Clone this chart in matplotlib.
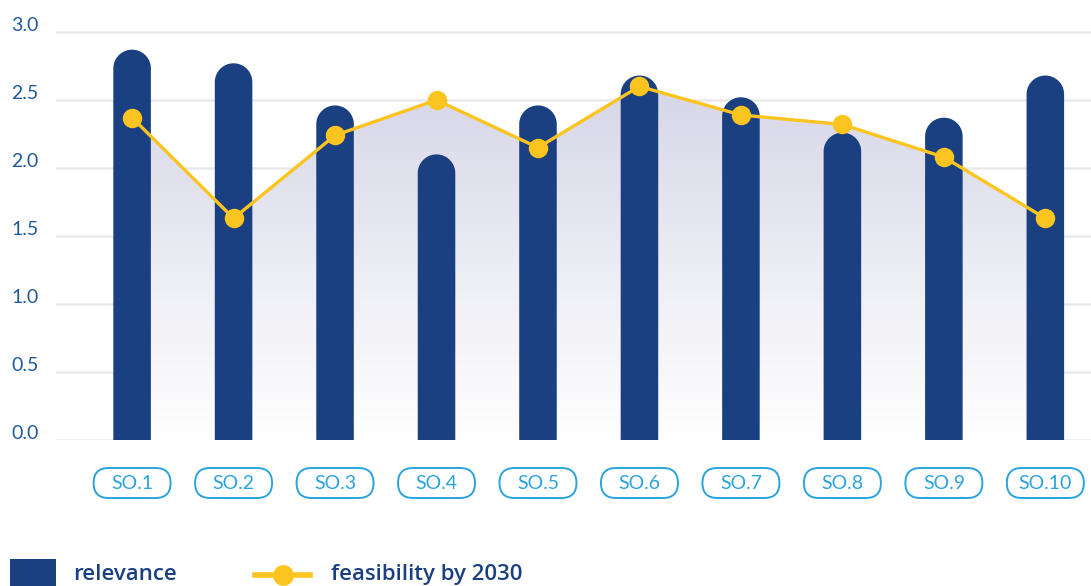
import numpy as np
import matplotlib
matplotlib.use("Agg")
import matplotlib.pyplot as plt
from matplotlib.patches import FancyBboxPatch, Rectangle, PathPatch, Polygon
from matplotlib.path import Path
from matplotlib.transforms import IdentityTransform
from matplotlib.lines import Line2D
from matplotlib.colors import LinearSegmentedColormap

# dados
categorias = ["SO.1", "SO.2", "SO.3", "SO.4", "SO.5", "SO.6", "SO.7", "SO.8", "SO.9", "SO.10"]
relevancia = [2.87, 2.77, 2.46, 2.10, 2.46, 2.68, 2.52, 2.26, 2.37, 2.68]
viabilidade = [2.37, 1.63, 2.24, 2.50, 2.15, 2.60, 2.39, 2.32, 2.08, 1.63]
ticks_y = [0.0, 0.5, 1.0, 1.5, 2.0, 2.5, 3.0]

azul = "#1a4082"
amarelo = "#fcc41e"
azul_claro = "#2ba3dd"
azul_texto = "#1f5a9c"
fonte = ["Lato", "DejaVu Sans"]

W, H = 1091, 586
fig = plt.figure(figsize=(W / 100, H / 100), dpi=100)
ax = fig.add_axes([56 / W, (H - 440) / H, 1 - 56 / W, (440 - 18.4) / H])

x = np.arange(len(categorias))
for s in ax.spines.values():
    s.set_visible(False)
ax.set_xticks([])
ax.set_yticks([])

# grade e rótulos do eixo y
for t in ticks_y:
    ax.axhline(t, color="#e9e9ec", lw=1.8, zorder=0)
    ax.annotate(f"{t:.1f}", xy=(0, t), xycoords=("axes fraction", "data"),
                xytext=(-45, 1), textcoords="offset pixels", ha="left", va="baseline",
                fontsize=14, color=azul_texto, family=fonte, annotation_clip=False)

# área com degradê abaixo da linha
verts = [(x[0], 0)] + list(zip(x, viabilidade)) + [(x[-1], 0), (x[0], 0)]
poly = PathPatch(Path(verts, closed=True), facecolor="none", edgecolor="none")
ax.add_patch(poly)
grad = np.linspace(1, 0, 256).reshape(-1, 1)
cmap = LinearSegmentedColormap.from_list("g", ["#ffffff", "#ececf4", "#d6d6e8"])
im = ax.imshow(grad, extent=[x[0], x[-1], 0, 2.6], aspect="auto", cmap=cmap,
               vmin=0, vmax=1, zorder=1, origin="upper")
im.set_clip_path(poly)

ax.set_xlim(-0.75, 9.45)
ax.set_ylim(0, 3.1)

# barras com topo arredondado
largura = 0.37
p0 = ax.transData.transform((0, 0))
px_x = ax.transData.transform((1, 0))[0] - p0[0]
px_y = ax.transData.transform((0, 1))[1] - p0[1]
raio_y = largura / 2 * px_x / px_y
t = np.linspace(0, np.pi, 80)
for xi, v in zip(x, relevancia):
    arco = np.column_stack([xi + largura / 2 * np.cos(t), v - raio_y + raio_y * np.sin(t)])
    pts = np.vstack([[xi + largura / 2, 0], arco, [xi - largura / 2, 0]])
    ax.add_patch(Polygon(pts, closed=True, facecolor=azul, edgecolor="none", zorder=2))

ax.plot(x, viabilidade, color=amarelo, lw=2.4, marker="o", markersize=14,
        markeredgewidth=0, zorder=3)

# rótulos do eixo x em "pílulas"
for xi, c in zip(x, categorias):
    cx = ax.transData.transform((xi, 0))[0]
    cy = H - 483
    fig.add_artist(FancyBboxPatch((cx - 38.5, cy - 15), 77, 30,
                                  boxstyle="round,pad=0,rounding_size=15",
                                  transform=IdentityTransform(), facecolor="white",
                                  edgecolor=azul_claro, lw=1.4))
    fig.text(cx / W, cy / H - 0.001, c, ha="center", va="center", fontsize=14,
             color=azul_claro, family=fonte)

# legenda
fig.add_artist(Rectangle((10, 0), 46, H - 559, transform=IdentityTransform(),
                         facecolor=azul, edgecolor="none"))
fig.text(73 / W, (H - 580) / H, "relevance", ha="left", va="baseline", fontsize=16,
         color=azul, family=["Open Sans", "DejaVu Sans"], fontweight="semibold")
fig.add_artist(Line2D([255 / W, 310 / W], [(H - 575) / H] * 2, transform=fig.transFigure,
                      color=amarelo, lw=4))
fig.add_artist(Line2D([283 / W], [(H - 575) / H], transform=fig.transFigure,
                      color=amarelo, marker="o", markersize=15, markeredgewidth=0))
fig.text(331 / W, (H - 580) / H, "feasibility by 2030", ha="left", va="baseline",
         fontsize=16, color=azul, family=["Open Sans", "DejaVu Sans"], fontweight="semibold")

fig.savefig("out.png", dpi=100)
